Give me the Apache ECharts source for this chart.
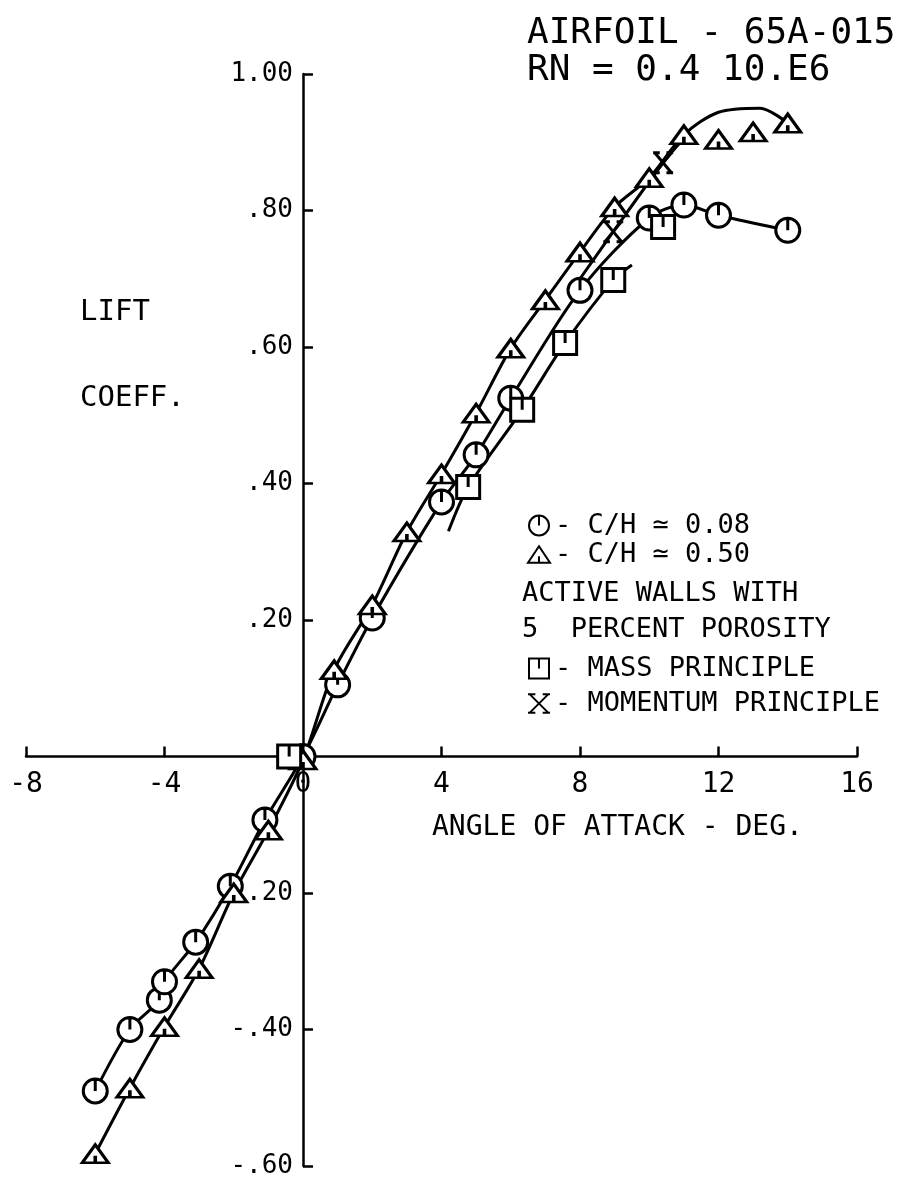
<!DOCTYPE html>
<html>
<head>
<meta charset="utf-8">
<script src="https://cdn.jsdelivr.net/npm/echarts@6/dist/echarts.min.js"></script>
<style>
  html, body { margin: 0; padding: 0; background: #fff; }
  #chart { width: 907px; height: 1180px; }
</style>
</head>
<body>
<div id="chart"></div>
<script>
"use strict";
// circle markers, C/H = 0.08
var circleX = [-6, -5, -4.15, -4, -3.1, -2.1, -1.1, 0, 1, 2, 4, 5, 6, 8, 10, 11, 12, 14];
var circleY = [-0.49, -0.40, -0.357, -0.33, -0.272, -0.19, -0.093, 0.0, 0.105, 0.203, 0.373, 0.442, 0.525, 0.683, 0.789, 0.808, 0.793, 0.771];

// triangle markers, C/H = 0.50
var triangleX = [-6, -5, -4, -3, -2, -1, 0, 0.9, 2, 3, 4, 5, 6, 7, 8, 9, 10, 11, 12, 13, 14];
var triangleY = [-0.582, -0.486, -0.396, -0.311, -0.20, -0.108, -0.005, 0.127, 0.222, 0.329, 0.414, 0.503, 0.598, 0.669, 0.739, 0.805, 0.848, 0.911, 0.904, 0.915, 0.928];

// faired curve through the triangles
var triangleCurveX = [-6, -5, -4, -3, -2, -1, 0, 0.9, 2, 3, 4, 5, 6, 7, 8, 9, 10, 11, 12, 13.2, 14];
var triangleCurveY = [-0.582, -0.486, -0.396, -0.311, -0.20, -0.108, -0.005, 0.127, 0.222, 0.329, 0.414, 0.503, 0.598, 0.669, 0.739, 0.805, 0.848, 0.911, 0.944, 0.950, 0.928];

// squares, mass principle
var squareX = [-0.4, 4.77, 6.33, 7.57, 8.96, 10.4];
var squareY = [0.0, 0.395, 0.508, 0.606, 0.698, 0.776];
var squareCurveX = [4.2, 4.77, 6.33, 7.57, 8.96, 9.5];
var squareCurveY = [0.33, 0.395, 0.508, 0.606, 0.698, 0.72];

// crosses, momentum principle
var momentumX = [8.96, 10.4];
var momentumY = [0.769, 0.870];
var momentumCurveX = [8.0, 8.96, 10.4, 10.9];
var momentumCurveY = [0.70, 0.769, 0.870, 0.90];

var FONT = '"DejaVu Sans Mono", monospace';

var circleSymbol = 'path://M10,0 A10,10,0,1,1,9.99,0 Z M10,0 L10,10';
var triangleSymbol = 'path://M0,18 L12,0 L24,18 Z M12,18 L12,11';
var squareSymbol = 'path://M0,0 L20,0 L20,20 L0,20 Z M10,0 L10,10';
var crossSymbol = 'path://M0,0 L20,20 M20,0 L0,20 M-2,0 L6,0 M14,0 L22,0 M-2,20 L6,20 M14,20 L22,20';

// plot box in pixels, axes cross at the origin
var GRID_LEFT = 26, GRID_RIGHT = 50, GRID_TOP = 74, GRID_BOTTOM = 14;
var X_MIN = -8, X_MAX = 16, Y_MIN = -0.6, Y_MAX = 1.0;
var gridW = 907 - GRID_LEFT - GRID_RIGHT;
var gridH = 1180 - GRID_TOP - GRID_BOTTOM;
var yAxisShift = gridW * (0 - X_MIN) / (X_MAX - X_MIN);
var xAxisShift = gridH * (0 - Y_MIN) / (Y_MAX - Y_MIN);

function zip(xs, ys) {
    return xs.map(function (x, i) { return [x, ys[i]]; });
}

function curve(xs, ys) {
    return {
        type: 'line', data: zip(xs, ys), smooth: 0.3, symbol: 'none', z: 2,
        lineStyle: {color: '#000', width: 3}, silent: true
    };
}

function markers(name, xs, ys, symbol, size) {
    return {
        name: name, type: 'scatter', data: zip(xs, ys), symbol: symbol, symbolSize: size, z: 4,
        itemStyle: {color: '#fff', borderColor: '#000', borderWidth: 3, opacity: 1}
    };
}

function yLabel(v) {
    if (Math.abs(v) < 1e-9) return '';
    var s = Math.abs(v).toFixed(2);
    if (Math.abs(v) < 1) s = s.substring(1);
    return (v < 0 ? '-' : '') + s;
}

var chart = echarts.init(document.getElementById('chart'));
var legendText = {fontSize: 27, fontFamily: FONT, color: '#000'};

chart.setOption({
    backgroundColor: '#fff',
    animation: false,
    grid: {left: GRID_LEFT, right: GRID_RIGHT, top: GRID_TOP, bottom: GRID_BOTTOM, containLabel: false, outerBoundsMode: 'none'},
    xAxis: {
        type: 'value', min: X_MIN, max: X_MAX, interval: 4, position: 'bottom', offset: -xAxisShift,
        axisLine: {onZero: false, lineStyle: {color: '#000', width: 2.5}},
        axisTick: {inside: true, length: 10, lineStyle: {color: '#000', width: 2.5}},
        axisLabel: {color: '#000', fontSize: 28, fontFamily: FONT, margin: 14},
        splitLine: {show: false}
    },
    yAxis: {
        type: 'value', min: Y_MIN, max: Y_MAX, interval: 0.2, position: 'left', offset: -yAxisShift,
        axisLine: {onZero: false, lineStyle: {color: '#000', width: 2.5}},
        axisTick: {inside: true, length: 10, lineStyle: {color: '#000', width: 2.5}},
        axisLabel: {color: '#000', fontSize: 26, fontFamily: FONT, margin: 10, formatter: yLabel},
        splitLine: {show: false}
    },
    legend: [
        {
            data: ['- C/H ≃ 0.08', '- C/H ≃ 0.50'], orient: 'vertical', left: 522, top: 507,
            itemWidth: 22, itemHeight: 20, itemGap: 2, selectedMode: false, textStyle: legendText
        },
        {
            data: ['- MASS PRINCIPLE', '- MOMENTUM PRINCIPLE'], orient: 'vertical', left: 522, top: 650,
            itemWidth: 22, itemHeight: 20, itemGap: 8, selectedMode: false, textStyle: legendText
        }
    ],
    graphic: [
        {type: 'text', x: 527, y: 34, style: {text: 'AIRFOIL - 65A-015', font: '36px ' + FONT, fill: '#000', verticalAlign: 'middle'}},
        {type: 'text', x: 527, y: 71, style: {text: 'RN = 0.4 10.E6', font: '36px ' + FONT, fill: '#000', verticalAlign: 'middle'}},
        {type: 'text', x: 80, y: 312, style: {text: 'LIFT', font: '29px ' + FONT, fill: '#000', verticalAlign: 'middle'}},
        {type: 'text', x: 80, y: 398, style: {text: 'COEFF.', font: '29px ' + FONT, fill: '#000', verticalAlign: 'middle'}},
        {type: 'text', x: 432, y: 828, style: {text: 'ANGLE OF ATTACK - DEG.', font: '28px ' + FONT, fill: '#000', verticalAlign: 'middle'}},
        {type: 'text', x: 522, y: 594, style: {text: 'ACTIVE WALLS WITH', font: '27px ' + FONT, fill: '#000', verticalAlign: 'middle'}},
        {type: 'text', x: 522, y: 630, style: {text: '5  PERCENT POROSITY', font: '27px ' + FONT, fill: '#000', verticalAlign: 'middle'}}
    ],
    series: [
        curve(circleX, circleY),
        curve(triangleCurveX, triangleCurveY),
        curve(squareCurveX, squareCurveY),
        curve(momentumCurveX, momentumCurveY),
        markers('- C/H ≃ 0.08', circleX, circleY, circleSymbol, 24),
        markers('- C/H ≃ 0.50', triangleX, triangleY, triangleSymbol, [26, 18]),
        markers('- MASS PRINCIPLE', squareX, squareY, squareSymbol, 23),
        markers('- MOMENTUM PRINCIPLE', momentumX, momentumY, crossSymbol, 20)
    ]
});
</script>
</body>
</html>
